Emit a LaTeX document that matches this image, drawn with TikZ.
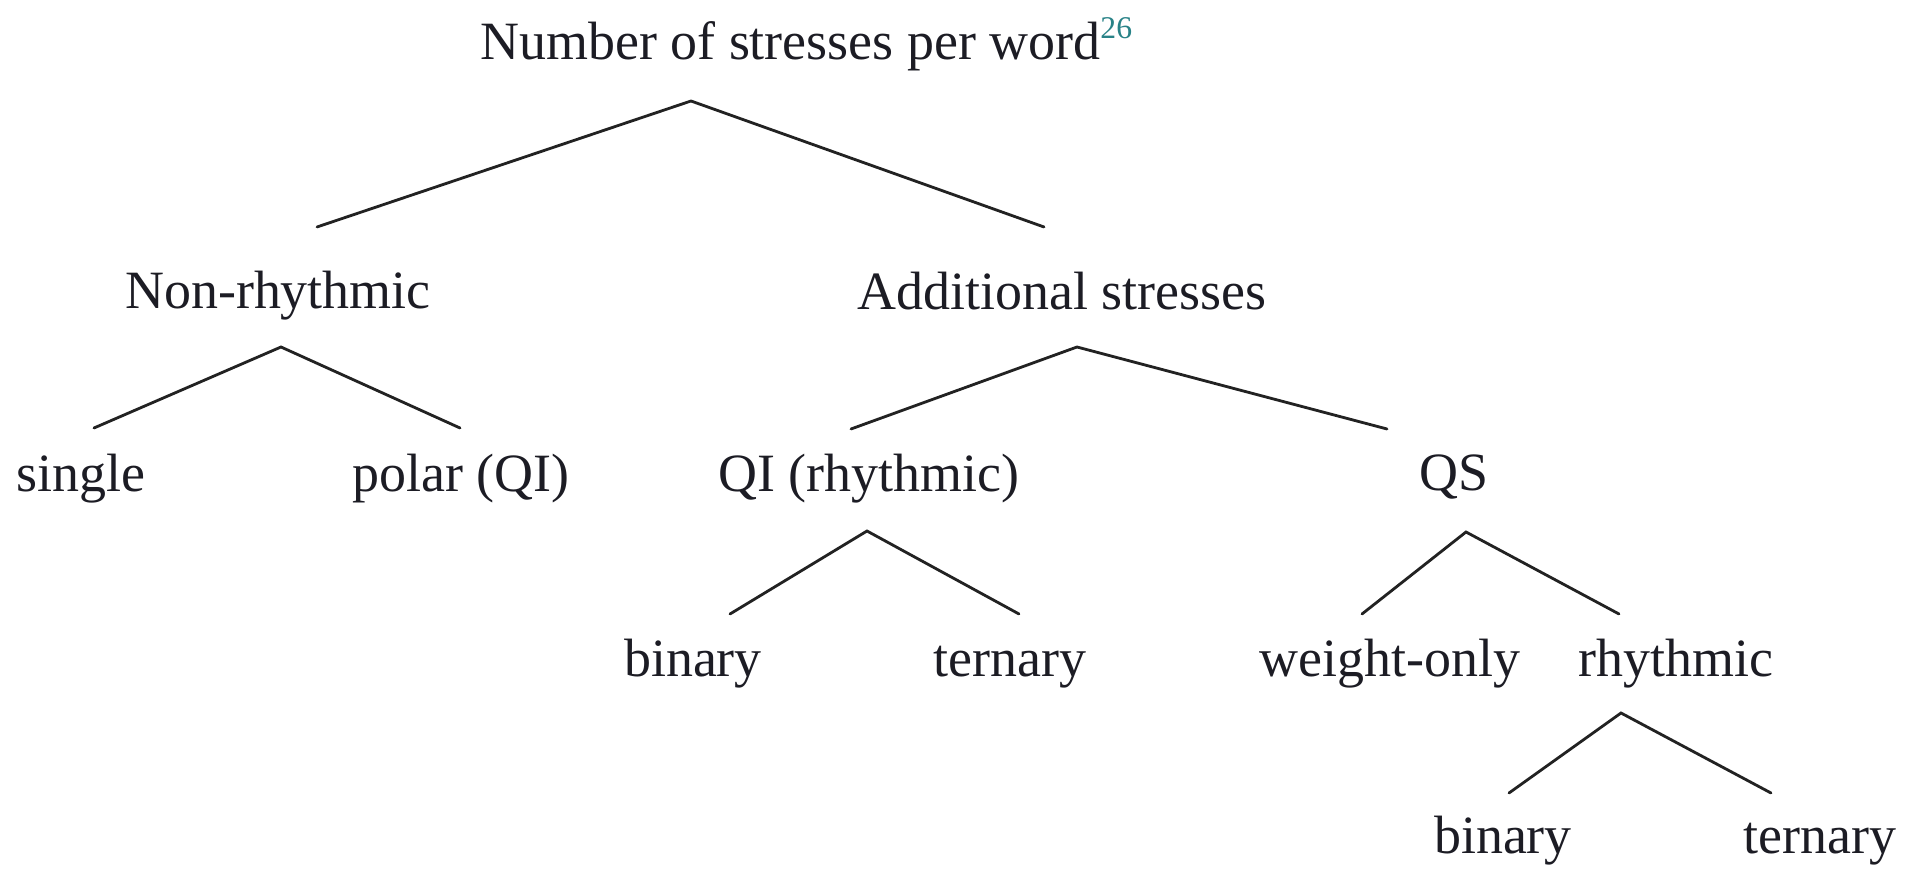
\documentclass[tikz,border=0pt]{standalone}
\usepackage{fontspec}
\setmainfont{Liberation Serif}
\usepackage{xcolor}
\usepackage{tikz}
\usetikzlibrary{positioning}
\definecolor{tinta}{RGB}{28, 28, 36}
\definecolor{rama}{RGB}{34, 34, 34}
\definecolor{nota}{RGB}{40, 130, 135}
\tikzset{
    lbl/.style={anchor=base, inner sep=0pt, text=tinta, font=\fontsize{30.7}{36}\selectfont},
    conn/.style={-, rama, line width=1.6pt, line cap=round},
}

\begin{document}
\begin{tikzpicture}[x=0.02cm, y=-0.02cm]
        \useasboundingbox (0,0) rectangle (1914,874);

        % labels
        \node [lbl, anchor=base west] (r) at (480,60)
            {Number of stresses per word\raisebox{0.43cm}{\fontsize{18}{18}\selectfont\textcolor{nota}{26}}};
        \node [lbl] (ch1) at (278,309) {Non-rhythmic};
        \node [lbl] (ch2) at (1062,310) {Additional stresses};
        \node [lbl] (ch1a) at (81,492) {single};
        \node [lbl] (ch1b) at (461,492) {polar (QI)};
        \node [lbl] (ch2a) at (869,492) {QI (rhythmic)};
        \node [lbl] (ch2b) at (1454,491) {QS};
        \node [lbl] (ch2aa) at (693,677) {binary};
        \node [lbl] (ch2ab) at (1010,677) {ternary};
        \node [lbl] (ch2ba) at (1390,677) {weight-only};
        \node [lbl] (ch2bb) at (1676,677) {rhythmic};
        \node [lbl] (ch2bba) at (1503,853) {binary};
        \node [lbl] (ch2bbb) at (1820,853) {ternary};

        % forks and feet
        \coordinate (r-f) at (691,101);
        \coordinate (ch1-t) at (317,227);
        \coordinate (ch2-t) at (1044,227);
        \coordinate (ch1-f) at (281,347);
        \coordinate (ch1a-t) at (94,428);
        \coordinate (ch1b-t) at (460,428);
        \coordinate (ch2-f) at (1077,347);
        \coordinate (ch2a-t) at (851,429);
        \coordinate (ch2b-t) at (1387,429);
        \coordinate (ch2a-f) at (867,531);
        \coordinate (ch2aa-t) at (730,614);
        \coordinate (ch2ab-t) at (1019,614);
        \coordinate (ch2b-f) at (1466,532);
        \coordinate (ch2ba-t) at (1362,614);
        \coordinate (ch2bb-t) at (1619,614);
        \coordinate (ch2bb-f) at (1621,713);
        \coordinate (ch2bba-t) at (1509,793);
        \coordinate (ch2bbb-t) at (1771,793);

        \draw[conn] (ch1-t) -- (r-f) -- (ch2-t);
        \draw[conn] (ch1a-t) -- (ch1-f) -- (ch1b-t);
        \draw[conn] (ch2a-t) -- (ch2-f) -- (ch2b-t);
        \draw[conn] (ch2aa-t) -- (ch2a-f) -- (ch2ab-t);
        \draw[conn] (ch2ba-t) -- (ch2b-f) -- (ch2bb-t);
        \draw[conn] (ch2bba-t) -- (ch2bb-f) -- (ch2bbb-t);
\end{tikzpicture}
\end{document}
